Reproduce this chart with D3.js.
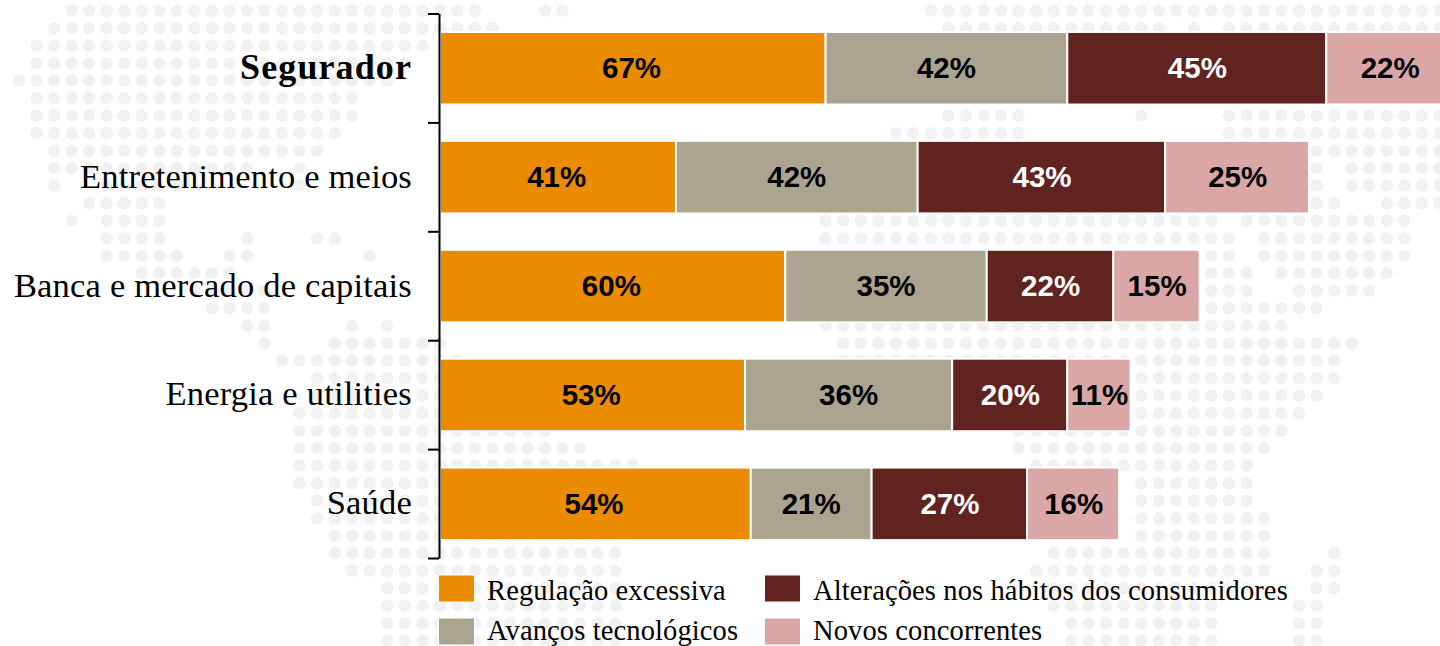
<!DOCTYPE html>
<html lang="pt">
<head>
<meta charset="utf-8">
<title>Ameaças por setor</title>
<script src="https://cdn.jsdelivr.net/npm/d3@7/dist/d3.min.js"></script>
<style>
  html, body { margin: 0; padding: 0; background: #fff; overflow: hidden; }
  svg { display: block; }
</style>
</head>
<body>
<script>
// Sectors, top to bottom
const sectors = ["Segurador", "Entretenimento e meios", "Banca e mercado de capitais", "Energia e utilities", "Saúde"];
const highlighted = "Segurador";

// Stack series, share of respondents (%)
const regulacao = [67, 41, 60, 53, 54];
const avancos = [42, 42, 35, 36, 21];
const habitos = [45, 43, 22, 20, 27];
const concorrentes = [22, 25, 15, 11, 16];

const seriesNames = ["Regulação excessiva", "Avanços tecnológicos", "Alterações nos hábitos dos consumidores", "Novos concorrentes"];
const seriesColors = ["#eb8c00", "#aba491", "#602320", "#dba6a6"];
const labelColors = ["#000", "#000", "#fff", "#000"];

// Background world map: column spans of the dots on each grid row
const mapRows = [
  [[3,26],[30,31],[52,81]],
  [[2,27],[53,65],[67,67],[69,81]],
  [[1,23]],
  [[1,22]],
  [[0,21]],
  [[1,19]],
  [[1,19],[53,57],[64,64],[69,81]],
  [[1,18],[50,57],[69,81]],
  [[2,17],[74,81]],
  [[2,13],[16,16],[74,74],[76,81]],
  [[2,2],[5,9],[16,16],[74,74],[76,81]],
  [[4,8],[74,75],[78,81]],
  [[3,3],[5,8],[46,68],[70,79]],
  [[5,8],[13,13],[17,18],[46,69],[71,79]],
  [[5,9],[12,13],[20,20],[68,69],[71,79]],
  [[7,12],[68,70],[72,78]],
  [[10,14],[68,70],[73,77]],
  [[11,14],[68,74]],
  [[13,14],[19,19],[21,21],[46,72]],
  [[14,14],[18,24],[47,76]],
  [[15,25],[47,75]],
  [[17,24],[64,75]],
  [[17,24],[64,74]],
  [[16,24],[64,73]],
  [[16,30],[57,72]],
  [[16,32],[57,71]],
  [[16,35],[58,70]],
  [[16,24],[64,70]],
  [[17,24],[64,70]],
  [[17,24],[64,71]],
  [[18,35],[64,71]],
  [[18,34],[59,71],[75,75]],
  [[19,34],[58,71],[74,75]],
  [[21,34],[59,70],[74,75]],
  [[21,34],[59,68],[73,74]],
  [[21,34],[60,68],[73,74]],
  [[21,34],[60,68],[73,74]]
];

const width = 1440, height = 646;
const svg = d3.select("body").append("svg").attr("width", width).attr("height", height);

// Dot grid scales
const colX = d3.scaleLinear().domain([0, 79]).range([19, 1404.3]);
const rowY = d3.scaleLinear().domain([0, 36]).range([10.7, 640.7]);

const dots = mapRows.flatMap((spans, row) =>
  spans.flatMap(([a, b]) => d3.range(a, b + 1).map(col => ({ row, col }))));

svg.append("g").attr("class", "map")
  .selectAll("circle").data(dots).join("circle")
  .attr("cx", d => colX(d.col))
  .attr("cy", d => rowY(d.row))
  .attr("r", 6.1)
  .attr("fill", "#f1f1f1");

// Value and category scales
const x = d3.scaleLinear().domain([0, 100]).range([440, 1015.5]);
const y = d3.scaleBand().domain(sectors).range([13.8, 558.3]).paddingInner(0.334).paddingOuter(0.167);

// Stacked bars
const table = sectors.map((sector, i) => ({
  sector,
  [seriesNames[0]]: regulacao[i],
  [seriesNames[1]]: avancos[i],
  [seriesNames[2]]: habitos[i],
  [seriesNames[3]]: concorrentes[i]
}));
const stacked = d3.stack().keys(seriesNames)(table);

const layers = svg.append("g").attr("class", "bars")
  .selectAll("g").data(stacked).join("g");

layers.selectAll("rect").data(d => d).join("rect")
  .attr("x", d => x(d[0]))
  .attr("y", d => y(d.data.sector))
  .attr("width", d => x(d[1]) - x(d[0]))
  .attr("height", y.bandwidth())
  .attr("fill", function () { return seriesColors[stacked.indexOf(d3.select(this.parentNode).datum())]; })
  .attr("stroke", "#fff")
  .attr("stroke-width", 2);

// Value labels centred in each segment; the first series sits against the axis
const labelNudge = [-1.3, 0, 0.6, 0.6];
layers.selectAll("text").data(d => d).join("text")
  .attr("x", function (d) {
    const k = stacked.indexOf(d3.select(this.parentNode).datum());
    return (x(d[0]) + x(d[1])) / 2 + labelNudge[k];
  })
  .attr("y", d => y(d.data.sector) + y.bandwidth() / 2 + 10)
  .attr("text-anchor", "middle")
  .attr("font-family", "'Liberation Sans', Arial, sans-serif")
  .attr("font-weight", 700)
  .attr("font-size", 29.5)
  .attr("fill", function () { return labelColors[stacked.indexOf(d3.select(this.parentNode).datum())]; })
  .text(d => `${d[1] - d[0]}%`);

// Vertical axis with ticks on the band boundaries
const edges = d3.scaleLinear().domain([0, sectors.length]).range([13.5, 558]);
const axis = svg.append("g").attr("class", "axis")
  .attr("transform", "translate(439,0)")
  .call(d3.axisLeft(edges).tickValues(d3.range(sectors.length + 1)).tickSize(11).tickSizeOuter(0).tickFormat(""));
axis.selectAll("path, line").attr("stroke", "#000").attr("stroke-width", 2);

// Category labels
svg.append("g").attr("class", "categories")
  .selectAll("text").data(sectors).join("text")
  .attr("x", 412)
  .attr("y", d => y(d) + y.bandwidth() / 2 + 10.5)
  .attr("text-anchor", "end")
  .attr("font-family", "'Liberation Serif', Georgia, serif")
  .attr("font-size", d => d === highlighted ? 36 : 34.5)
  .attr("letter-spacing", d => d === highlighted ? 1.1 : 0.2)
  .attr("font-weight", d => d === highlighted ? 700 : 400)
  .attr("fill", "#000")
  .text(d => d);

// Legend, two columns of two rows
const legendCol = d3.scaleOrdinal().domain([0, 1]).range([438.5, 764.5]);
const legendRow = d3.scaleOrdinal().domain([0, 1]).range([575, 618]);
const legendBaseline = d3.scaleOrdinal().domain([0, 1]).range([25, 22]);
const legend = svg.append("g").attr("class", "legend")
  .selectAll("g").data(seriesNames).join("g")
  .attr("transform", (d, i) => `translate(${legendCol(i >> 1)},${legendRow(i % 2)})`);

legend.append("rect")
  .attr("width", 36).attr("height", 27)
  .attr("fill", (d, i) => seriesColors[i])
  .attr("stroke", "#fff").attr("stroke-width", 1);

legend.append("text")
  .attr("x", 48.5)
  .attr("y", (d, i) => legendBaseline(i % 2))
  .attr("font-family", "'Liberation Serif', Georgia, serif")
  .attr("font-size", 28.5)
  .attr("letter-spacing", 0.12)
  .attr("fill", "#000")
  .text(d => d);
</script>
</body>
</html>
